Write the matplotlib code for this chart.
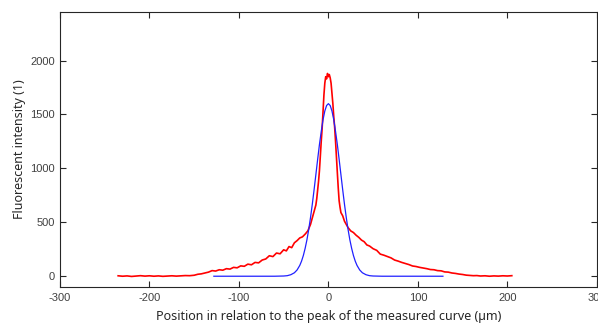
import numpy as np
import matplotlib.pyplot as plt

plt.rcParams['axes.unicode_minus'] = False

# --- measured profile (red) ---
meas_x = [-235, -230, -225, -220, -215, -210, -205, -200, -195, -190, -185, -180,
          -175, -170, -165, -160, -155, -150, -146, -142, -138, -134, -130, -126,
          -122, -118, -114, -110, -106, -102, -98, -94, -90, -86, -82, -78, -74,
          -70, -66, -62, -58, -54, -50, -47, -44, -41, -38, -35, -32, -29, -26,
          -23, -20, -18, -16, -14, -13, -12, -11, -10, -9, -8, -7, -6, -5, -4,
          -3, -2, -1, 0, 1, 2, 3, 4, 5, 6, 7, 8, 9, 10, 11, 12, 13, 14, 16, 18,
          20, 22, 25, 28, 31, 34, 37, 40, 43, 46, 50, 54, 58, 62, 66, 70, 74,
          78, 82, 86, 90, 94, 98, 102, 106, 110, 114, 118, 122, 126, 130, 134,
          138, 142, 146, 150, 154, 158, 162, 166, 170, 175, 180, 185, 190, 195,
          200, 205]
meas_y = [4, 0, 3, -2, 2, 5, 1, 4, 0, 3, -1, 2,
          4, 1, 3, 6, 5, 9, 18, 22, 30, 38, 52, 48,
          60, 56, 70, 66, 82, 78, 96, 92, 112, 106, 128, 124, 150,
          160, 190, 182, 215, 208, 245, 235, 275, 265, 310, 330, 355, 365, 390,
          420, 480, 540, 600, 660, 720, 800, 880, 980, 1120, 1250, 1370, 1520, 1680, 1790,
          1850, 1830, 1880, 1850, 1870, 1840, 1790, 1700, 1600, 1480, 1380, 1250, 1100, 960, 820, 700, 640, 590, 560, 510,
          480, 450, 420, 405, 380, 360, 335, 320, 290, 280, 255, 240, 205, 195, 182, 170, 150,
          140, 128, 118, 108, 95, 90, 82, 76, 70, 62, 60, 52, 50, 40, 38,
          30, 26, 20, 16, 10, 8, 5, 6, 2, 4, 0, 3, 1, 4,
          2, 5]

# --- fitted gaussian (blue) ---
fit_x = [-128, -60, -50, -46, -42, -38, -35, -32, -30, -28, -26, -24, -22, -20,
         -18, -16, -14, -12, -10, -8, -6, -4, -2, 0, 2, 4, 6, 8, 10, 12, 14, 16,
         18, 20, 22, 24, 26, 28, 30, 32, 35, 38, 42, 46, 50, 60, 128]
fit_y = [0, 0, 2, 5, 14, 32, 58, 100, 140, 192, 258, 337, 433, 543,
         666, 801, 942, 1084, 1221, 1342, 1451, 1532, 1583, 1600, 1583, 1532, 1451, 1342, 1221, 1084, 942, 801,
         666, 543, 433, 337, 258, 192, 140, 100, 58, 32, 14, 5, 2, 0, 0]

xticks = [-300, -200, -100, 0, 100, 200, 300]
yticks = [0, 500, 1000, 1500, 2000]

fig = plt.figure(figsize=(5.98, 3.27), dpi=100)
ax = fig.add_axes([0.1003, 0.1223, 0.8977, 0.841])

ax.plot(meas_x, meas_y, color='#ff0000', lw=1.2)
ax.plot(fit_x, fit_y, color='#2020ff', lw=0.9)

ax.set_xlim(-300, 300)
ax.set_ylim(-100, 2450)
ax.set_xticks(xticks)
ax.set_yticks(yticks)
ax.tick_params(direction='in', top=True, right=True, length=4, width=0.8,
               colors='#262626', labelcolor='#404040', labelsize=8)
ax.tick_params(axis='x', pad=4)
for lab in ax.get_xticklabels() + ax.get_yticklabels():
    lab.set_family('Liberation Sans')
for s in ax.spines.values():
    s.set_color('#262626')
    s.set_linewidth(0.8)

ax.set_xlabel('Position in relation to the peak of the measured curve (µm)',
              family='Noto Sans', fontsize=9, color='#262626', labelpad=5)
ax.set_ylabel('Fluorescent intensity (1)', family='Noto Sans', fontsize=9,
              color='#262626', labelpad=3)

fig.savefig('out.png', dpi=100)
